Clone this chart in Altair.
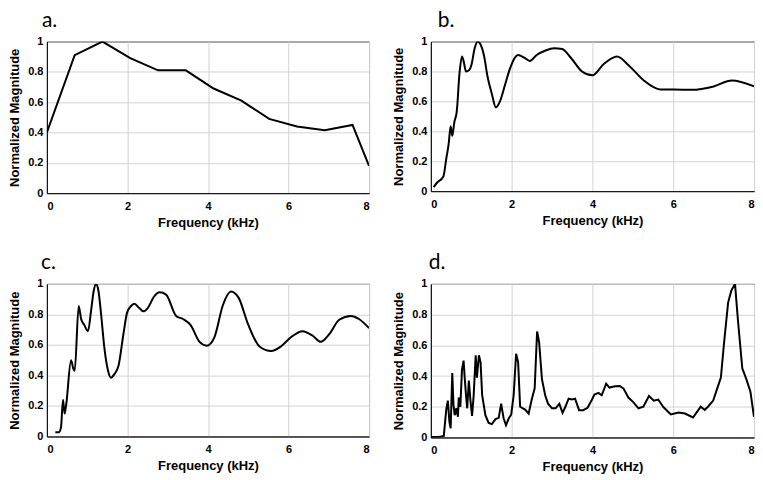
import altair as alt
import pandas as pd

# ---------------- data ----------------
X_TICKS = [0, 2, 4, 6, 8]
Y_TICKS = [0, 0.2, 0.4, 0.6, 0.8, 1.0]
PANEL_LABELS = ["a.", "b.", "c.", "d."]
X_TITLE = "Frequency (kHz)"
Y_TITLE = "Normalized Magnitude"

A_FREQ = [0.0, 0.69, 1.38, 2.07, 2.76, 3.45, 4.14, 4.83, 5.52, 6.21, 6.90, 7.59, 8.0]
A_MAG = [0.40, 0.91, 1.0, 0.89, 0.81, 0.81, 0.69, 0.61, 0.49, 0.44, 0.415, 0.45, 0.18]

B_FREQ = [0.07, 0.15, 0.31, 0.38, 0.44, 0.49, 0.53, 0.58, 0.64, 0.71,
          0.77, 0.81, 0.87, 0.95, 1.01, 1.08, 1.16, 1.23, 1.32, 1.40,
          1.51, 1.61, 1.71, 1.84, 1.96, 2.08, 2.16, 2.31, 2.45, 2.62,
          2.84, 3.05, 3.25, 3.47, 3.74, 4.0, 4.28, 4.61, 4.90, 5.27,
          5.68, 6.01, 6.46, 7.0, 7.45, 8.0]
B_MAG = [0.027, 0.056, 0.098, 0.215, 0.315, 0.433, 0.37, 0.46, 0.53, 0.79,
         0.90, 0.87, 0.80, 0.81, 0.85, 0.95, 1.0, 0.98, 0.90, 0.77,
         0.65, 0.56, 0.60, 0.715, 0.82, 0.893, 0.91, 0.893, 0.87, 0.91,
         0.94, 0.955, 0.95, 0.89, 0.80, 0.775, 0.85, 0.90, 0.84, 0.74,
         0.68, 0.68, 0.677, 0.70, 0.74, 0.70]

C_FREQ = [0.21, 0.30, 0.35, 0.40, 0.44, 0.48, 0.60, 0.66, 0.69, 0.79,
          0.85, 0.93, 1.02, 1.10, 1.16, 1.22, 1.28, 1.35, 1.43, 1.51,
          1.59, 1.68, 1.78, 1.90, 1.99, 2.09, 2.17, 2.30, 2.40, 2.50,
          2.67, 2.80, 2.96, 3.21, 3.38, 3.57, 3.79, 3.97, 4.16, 4.37,
          4.57, 4.76, 4.99, 5.28, 5.57, 5.81, 6.06, 6.35, 6.60, 6.80,
          7.01, 7.26, 7.55, 7.75, 8.0]
C_MAG = [0.028, 0.028, 0.06, 0.24, 0.15, 0.21, 0.50, 0.44, 0.43, 0.855,
         0.77, 0.73, 0.69, 0.83, 0.95, 1.0, 0.955, 0.79, 0.575, 0.44,
         0.385, 0.41, 0.465, 0.67, 0.81, 0.855, 0.87, 0.84, 0.82, 0.84,
         0.92, 0.945, 0.93, 0.79, 0.77, 0.73, 0.62, 0.595, 0.65, 0.86,
         0.95, 0.91, 0.74, 0.59, 0.56, 0.59, 0.65, 0.69, 0.66, 0.62,
         0.67, 0.765, 0.79, 0.77, 0.71]

D_FREQ = [0.0, 0.10, 0.20, 0.32, 0.38, 0.42, 0.46, 0.49, 0.53, 0.56,
          0.59, 0.63, 0.67, 0.69, 0.73, 0.77, 0.81, 0.84, 0.87, 0.90,
          0.94, 0.98, 1.02, 1.06, 1.11, 1.14, 1.19, 1.23, 1.27, 1.35,
          1.43, 1.51, 1.60, 1.68, 1.74, 1.80, 1.86, 1.93, 1.99, 2.05,
          2.11, 2.16, 2.21, 2.34, 2.42, 2.50, 2.57, 2.63, 2.68, 2.75,
          2.83, 2.90, 3.0, 3.09, 3.18, 3.26, 3.33, 3.41, 3.49, 3.57,
          3.67, 3.77, 3.88, 3.98, 4.05, 4.15, 4.23, 4.34, 4.42, 4.56,
          4.68, 4.77, 4.89, 5.01, 5.14, 5.26, 5.40, 5.52, 5.63, 5.75,
          5.94, 6.13, 6.29, 6.49, 6.59, 6.68, 6.78, 6.86, 6.99, 7.09,
          7.18, 7.26, 7.36, 7.44, 7.53, 7.60, 7.71, 7.81, 7.91, 8.0]
D_MAG = [0.003, 0.003, 0.003, 0.01, 0.18, 0.24, 0.10, 0.06, 0.42, 0.21,
         0.145, 0.19, 0.135, 0.26, 0.20, 0.44, 0.50, 0.38, 0.275, 0.19,
         0.37, 0.24, 0.14, 0.275, 0.535, 0.39, 0.535, 0.49, 0.275, 0.145,
         0.095, 0.087, 0.12, 0.128, 0.22, 0.125, 0.08, 0.125, 0.15, 0.275,
         0.545, 0.49, 0.20, 0.18, 0.155, 0.25, 0.32, 0.69, 0.62, 0.38,
         0.275, 0.22, 0.19, 0.19, 0.22, 0.16, 0.20, 0.253, 0.247, 0.253,
         0.178, 0.178, 0.193, 0.242, 0.28, 0.29, 0.275, 0.35, 0.325, 0.333,
         0.335, 0.318, 0.26, 0.23, 0.19, 0.20, 0.27, 0.24, 0.247, 0.20,
         0.15, 0.162, 0.156, 0.13, 0.167, 0.20, 0.18, 0.20, 0.24, 0.32,
         0.39, 0.62, 0.88, 0.957, 1.0, 0.77, 0.45, 0.38, 0.30, 0.135]

# ---------------- chart ----------------
AXIS_FONT = "Liberation Sans"
LABEL_FONT = "Lato"


def panel(freq, mag, label, dx, w, h, interp):
    df = pd.DataFrame({"f": freq, "m": mag})
    return (
        alt.Chart(df)
        .mark_line(color="black", strokeWidth=2, interpolate=interp, clip=True)
        .encode(
            x=alt.X("f:Q", scale=alt.Scale(domain=[0, 8], nice=False),
                    axis=alt.Axis(values=X_TICKS, title=X_TITLE, format="~g")),
            y=alt.Y("m:Q", scale=alt.Scale(domain=[0, 1], nice=False),
                    axis=alt.Axis(values=Y_TICKS, title=Y_TITLE, format="~g")),
        )
        .properties(
            width=w, height=h,
            title=alt.TitleParams(label, anchor="start", frame="group", dx=dx,
                                  font=LABEL_FONT, fontSize=21, fontWeight="normal",
                                  color="black", offset=5),
        )
    )


pa = panel(A_FREQ, A_MAG, PANEL_LABELS[0], -5, 323, 152, "linear")
pb = panel(B_FREQ, B_MAG, PANEL_LABELS[1], 7, 324, 150, "monotone")
pc = panel(C_FREQ, C_MAG, PANEL_LABELS[2], -6, 323, 153, "monotone")
pd_ = panel(D_FREQ, D_MAG, PANEL_LABELS[3], -2, 324, 154, "linear")

chart = (
    alt.vconcat(
        alt.hconcat(pa, pb, spacing=22),
        alt.hconcat(pc, pd_, spacing=22),
        spacing=21,
    )
    .properties(padding=0, background="white")
    .configure_view(stroke="black", strokeWidth=1)
    .configure_axis(
        domainColor="black", domainWidth=1, ticks=False,
        gridColor="#d3d3d3", gridWidth=1,
        labelFont=AXIS_FONT, labelFontSize=11, labelFontWeight="bold", labelColor="black",
        titleFont=AXIS_FONT, titleFontSize=13, titleFontWeight="bold", titleColor="black",
    )
    .configure_axisX(labelPadding=7, titlePadding=5)
    .configure_axisY(labelPadding=4, titlePadding=6)
)

chart.save("out.html", embed_options={"renderer": "svg", "actions": False})
